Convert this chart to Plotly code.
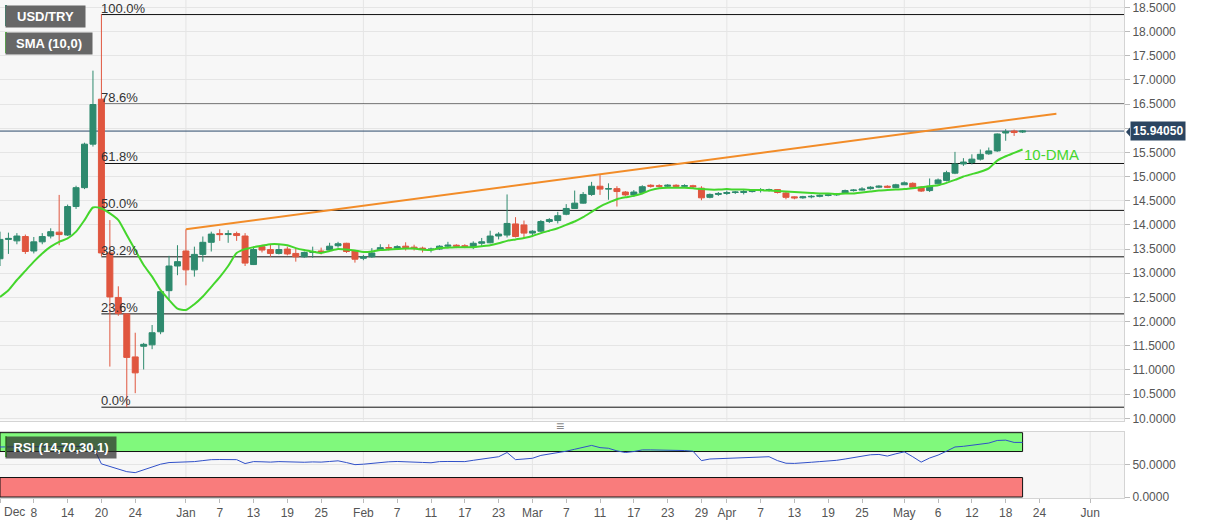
import pandas as pd
import plotly.graph_objects as go
from plotly.subplots import make_subplots

# daily candles, Dec 2 2021 .. May 20 2022 (weekdays), stamped at noon so weekend breaks don't clip bodies
dates = pd.bdate_range("2021-12-02", "2022-05-20") + pd.Timedelta(hours=12)

opens = [
    13.30, 13.70, 13.67, 13.76, 13.46, 13.65, 13.77, 13.85, 13.79, 14.38, 14.77, 15.67, 16.60, 13.42, 12.50, 12.16, 11.27, 11.49, 11.52, 11.79, 12.64, 13.15,
    13.46, 13.07, 13.39, 13.64, 13.82, 13.80, 13.82, 13.77, 13.18, 13.55, 13.49, 13.41, 13.50, 13.41, 13.34, 13.43, 13.46, 13.48, 13.57, 13.62, 13.46,
    13.31, 13.34, 13.48, 13.53, 13.52, 13.56, 13.54, 13.52, 13.49, 13.50, 13.56, 13.58, 13.57, 13.54, 13.62, 13.63, 13.77, 13.79, 14.02, 14.00,
    13.83, 13.87, 14.07, 14.09, 14.22, 14.34, 14.45, 14.63, 14.80, 14.74, 14.75, 14.68, 14.62, 14.67, 14.82, 14.81, 14.80, 14.82, 14.80, 14.81, 14.76, 14.57, 14.63,
    14.65, 14.67, 14.67, 14.69, 14.71, 14.72, 14.73, 14.66, 14.58, 14.56, 14.58, 14.59, 14.61, 14.62, 14.65, 14.71, 14.72, 14.75, 14.78, 14.80, 14.77,
    14.83, 14.86, 14.78, 14.71, 14.85, 14.92, 15.07, 15.26, 15.29, 15.36, 15.47, 15.53, 15.90, 15.94, 15.92,
]
highs = [
    13.86, 13.84, 13.83, 13.80, 13.75, 13.83, 13.93, 14.62, 14.42, 14.81, 15.70, 17.19, 18.36, 14.10, 12.73, 12.17, 11.77, 11.56, 11.93, 12.66, 13.36, 13.58,
    13.91, 13.55, 13.76, 13.86, 13.91, 13.89, 13.86, 13.83, 13.55, 13.59, 13.59, 13.59, 13.55, 13.52, 13.45, 13.55, 13.53, 13.63, 13.65, 13.63, 13.48,
    13.38, 13.52, 13.60, 13.60, 13.58, 13.64, 13.59, 13.55, 13.53, 13.58, 13.65, 13.60, 13.60, 13.66, 13.73, 13.88, 13.85, 14.63, 14.16, 14.09,
    13.89, 14.10, 14.14, 14.27, 14.43, 14.71, 14.68, 14.89, 15.03, 14.86, 14.80, 14.70, 14.72, 14.82, 14.84, 14.84, 14.84, 14.84, 14.84, 14.83, 14.80, 14.65, 14.68,
    14.71, 14.70, 14.73, 14.74, 14.76, 14.75, 14.74, 14.68, 14.59, 14.60, 14.62, 14.63, 14.64, 14.66, 14.73, 14.74, 14.78, 14.80, 14.82, 14.82, 14.85,
    14.90, 14.88, 14.80, 14.96, 14.96, 15.12, 15.51, 15.38, 15.46, 15.56, 15.60, 15.89, 15.98, 15.97, 15.96,
]
lows = [
    13.15, 13.40, 13.60, 13.40, 13.41, 13.60, 13.72, 13.58, 13.77, 14.33, 14.74, 15.62, 13.35, 11.07, 12.12, 10.23, 10.52, 11.01, 11.43, 11.74, 12.43, 12.96,
    12.75, 12.93, 13.24, 13.45, 13.67, 13.63, 13.67, 13.15, 13.17, 13.43, 13.34, 13.39, 13.37, 13.24, 13.32, 13.32, 13.39, 13.46, 13.53, 13.42, 13.22,
    13.27, 13.32, 13.46, 13.47, 13.48, 13.47, 13.47, 13.43, 13.43, 13.48, 13.54, 13.52, 13.52, 13.50, 13.56, 13.62, 13.70, 13.74, 13.74, 13.72,
    13.78, 13.85, 14.04, 14.03, 14.20, 14.33, 14.44, 14.60, 14.62, 14.52, 14.38, 14.60, 14.58, 14.66, 14.77, 14.77, 14.77, 14.77, 14.77, 14.76, 14.51, 14.55, 14.60,
    14.62, 14.64, 14.63, 14.67, 14.67, 14.69, 14.65, 14.53, 14.53, 14.54, 14.55, 14.57, 14.59, 14.60, 14.64, 14.69, 14.71, 14.73, 14.76, 14.76, 14.76,
    14.83, 14.76, 14.68, 14.68, 14.84, 14.90, 15.05, 15.22, 15.25, 15.33, 15.45, 15.51, 15.74, 15.84, 15.90,
]
closes = [
    13.70, 13.72, 13.77, 13.45, 13.65, 13.76, 13.86, 13.80, 14.38, 14.77, 15.67, 16.49, 13.42, 12.51, 12.17, 11.26, 10.94, 11.53, 11.77, 12.62, 13.15, 13.24,
    13.07, 13.39, 13.64, 13.81, 13.80, 13.82, 13.78, 13.21, 13.49, 13.48, 13.41, 13.49, 13.40, 13.34, 13.43, 13.45, 13.43, 13.56, 13.61, 13.45, 13.29,
    13.34, 13.42, 13.53, 13.52, 13.55, 13.53, 13.51, 13.49, 13.50, 13.56, 13.58, 13.56, 13.55, 13.62, 13.65, 13.77, 13.81, 14.03, 13.76, 13.83,
    13.87, 14.07, 14.11, 14.19, 14.34, 14.45, 14.63, 14.80, 14.74, 14.75, 14.69, 14.62, 14.68, 14.79, 14.80, 14.80, 14.82, 14.80, 14.81, 14.79, 14.56, 14.63, 14.65,
    14.67, 14.68, 14.69, 14.71, 14.73, 14.73, 14.67, 14.57, 14.56, 14.58, 14.59, 14.61, 14.62, 14.64, 14.71, 14.72, 14.74, 14.78, 14.80, 14.78, 14.83,
    14.87, 14.78, 14.70, 14.80, 14.93, 15.08, 15.26, 15.30, 15.36, 15.46, 15.53, 15.88, 15.93, 15.91, 15.94,
]
# 10-day SMA as drawn on the chart
sma10 = [
    12.51, 12.65, 12.86, 13.05, 13.24, 13.41, 13.55, 13.65, 13.72, 13.86, 14.10, 14.36, 14.34, 14.24, 14.10, 13.79, 13.48, 13.17, 12.93, 12.65, 12.45, 12.27,
    12.24, 12.36, 12.52, 12.72, 12.92, 13.15, 13.42, 13.50, 13.54, 13.57, 13.60, 13.60, 13.58, 13.52, 13.48, 13.45, 13.42, 13.46, 13.50, 13.49, 13.47,
    13.44, 13.45, 13.48, 13.49, 13.50, 13.51, 13.51, 13.49, 13.48, 13.52, 13.53, 13.54, 13.54, 13.54, 13.56, 13.58, 13.62, 13.67, 13.70, 13.73,
    13.77, 13.83, 13.88, 13.93, 14.00, 14.07, 14.16, 14.27, 14.38, 14.46, 14.53, 14.57, 14.60, 14.65, 14.72, 14.76, 14.77, 14.77, 14.77, 14.76, 14.74, 14.73, 14.73,
    14.74, 14.73, 14.73, 14.72, 14.72, 14.71, 14.70, 14.69, 14.68, 14.67, 14.66, 14.65, 14.65, 14.64, 14.65, 14.65, 14.67, 14.69, 14.71, 14.72, 14.73,
    14.74, 14.76, 14.78, 14.80, 14.82, 14.87, 14.93, 15.00, 15.05, 15.10, 15.17, 15.33, 15.42, 15.49, 15.56,
]
# RSI(14) as drawn on the lower panel
rsi14 = [
    77, 77, 77.5, 77, 77, 77.5, 77.5, 78, 78, 78, 78, 78, 51, 47, 43, 39, 37.5, 42, 45.5, 50.5, 53, 53.5,
    53, 54.5, 56, 57.5, 57.7, 57.7, 57.5, 51.5, 54.5, 54.2, 53.7, 54.5, 54.2, 53, 53.5, 54, 53.7, 54.7, 55.7, 53, 49.8,
    50.5, 51.8, 54, 54.2, 54.7, 54.5, 54, 53.2, 52.7, 54.5, 54.7, 54.7, 54.5, 56.5, 58.5, 61, 62, 68.5, 57.5, 58.5,
    59.6, 64, 66, 67.5, 70.5, 73.5, 77, 79.4, 76, 75, 71, 68.5, 70, 72.5, 72.5, 72.5, 72.5, 72, 71.5, 70.5, 56, 58.5, 59,
    59.6, 60, 60.5, 60.5, 61.5, 62, 56, 52, 51.7, 52.2, 53.5, 54.5, 55, 56.5, 58.5, 61, 63.5, 65, 65.5, 63, 66.5,
    69.5, 62, 53.7, 60, 64.5, 70.5, 77, 78, 80, 81.5, 83, 87, 87.5, 84, 84,
]
for s in (opens, highs, lows, closes, sma10, rsi14):
    assert len(s) == len(dates)

# fibonacci retracement of the Dec 20 spike / Dec 23 low
fib_labels = ["100.0%", "78.6%", "61.8%", "50.0%", "38.2%", "23.6%", "0.0%"]
fib_prices = [18.35, 16.50, 15.27, 14.30, 13.34, 12.16, 10.23]
fib_start = "2021-12-20 12:00"

trend_dates = ["2022-01-03 12:00", "2022-05-26 12:00"]
trend_prices = [13.91, 16.30]

last_price = 15.9405

price_ticks = [10.0, 10.5, 11.0, 11.5, 12.0, 12.5, 13.0, 13.5, 14.0, 14.5, 15.0, 15.5, 16.0, 16.5, 17.0, 17.5, 18.0, 18.5]
# the 16.0000 label sits under the last-price tag
price_tick_text = ["" if v == 16.0 else "%.4f" % v for v in price_ticks]

month_lines = ["2022-01-03", "2022-02-01", "2022-03-01", "2022-04-01", "2022-05-02", "2022-06-01"]
tick_dates = ["2021-12-02", "2021-12-08", "2021-12-14", "2021-12-20", "2021-12-24",
              "2022-01-03", "2022-01-07", "2022-01-13", "2022-01-19", "2022-01-25",
              "2022-02-01", "2022-02-07", "2022-02-11", "2022-02-17", "2022-02-23",
              "2022-03-01", "2022-03-07", "2022-03-11", "2022-03-17", "2022-03-23", "2022-03-29",
              "2022-04-01", "2022-04-07", "2022-04-13", "2022-04-19", "2022-04-25",
              "2022-05-02", "2022-05-06", "2022-05-12", "2022-05-18", "2022-05-24", "2022-06-01"]
tick_labels = ["", "8", "14", "20", "24", "Jan", "7", "13", "19", "25", "Feb", "7", "11", "17", "23",
               "Mar", "7", "11", "17", "23", "29", "Apr", "7", "13", "19", "25", "May", "6", "12", "18", "24", "Jun"]

x_range = ["2021-12-02 12:00", "2022-06-07 12:00"]
GREEN = "#2e8a6e"
RED = "#e0563f"
GRID = "#e5e5e5"
FONT = "Liberation Sans, Arial, sans-serif"

W, H = 1207, 526
ML, MR, MT, MB = 0, 83, 0, 28
PW, PH = W - ML - MR, H - MT - MB


def px(x):
    return x / PW


def py(y):
    return 1 - y / PH


fig = make_subplots(rows=2, cols=1, shared_xaxes=True)

fig.add_trace(go.Candlestick(
    x=dates, open=opens, high=highs, low=lows, close=closes,
    increasing=dict(line=dict(color=GREEN, width=1), fillcolor=GREEN),
    decreasing=dict(line=dict(color=RED, width=1), fillcolor=RED),
    whiskerwidth=0, showlegend=False, hoverinfo="skip"), row=1, col=1)

fig.add_trace(go.Scatter(x=dates, y=sma10, mode="lines", line=dict(color="#44d62c", width=2, shape="spline", smoothing=0.6),
                         showlegend=False, hoverinfo="skip"), row=1, col=1)
fig.add_trace(go.Scatter(x=trend_dates, y=trend_prices, mode="lines", line=dict(color="#f28c28", width=2),
                         showlegend=False, hoverinfo="skip"), row=1, col=1)
fig.add_trace(go.Scatter(x=dates, y=rsi14, mode="lines", line=dict(color="#3050c8", width=1),
                         showlegend=False, hoverinfo="skip"), row=2, col=1)

shapes = []
for d in month_lines:
    for xr, yr in (("x", "y domain"), ("x2", "y2 domain")):
        shapes.append(dict(type="line", xref=xr, yref=yr, x0=d + " 12:00", x1=d + " 12:00", y0=0, y1=1,
                           line=dict(color=GRID, width=1), layer="below"))
for p in fib_prices:
    shapes.append(dict(type="line", xref="x", yref="y", x0=fib_start, x1=x_range[1], y0=p, y1=p,
                       line=dict(color="#111111", width=1), layer="below"))
shapes.append(dict(type="line", xref="paper", yref="y", x0=0, x1=1, y0=last_price, y1=last_price,
                   line=dict(color="#2c4a6b", width=1), layer="below"))
# RSI overbought / oversold zones
shapes.append(dict(type="rect", xref="x2", yref="y2", x0=x_range[0], x1=dates[-1], y0=70, y1=99,
                   fillcolor="#80f97c", line=dict(color="#111111", width=1), layer="below"))
shapes.append(dict(type="rect", xref="x2", yref="y2", x0=x_range[0], x1=dates[-1], y0=0, y1=30,
                   fillcolor="#f97c7c", line=dict(color="#111111", width=1), layer="below"))
# legend tag stripes
shapes.append(dict(type="rect", xref="paper", yref="paper", x0=px(5), x1=px(7), y0=py(26), y1=py(5),
                   fillcolor=GREEN, line=dict(width=0)))
shapes.append(dict(type="rect", xref="paper", yref="paper", x0=px(5), x1=px(7), y0=py(53), y1=py(32),
                   fillcolor="#4cd137", line=dict(width=0)))
shapes.append(dict(type="rect", xref="paper", yref="paper", x0=px(5), x1=px(7), y0=py(457), y1=py(436),
                   fillcolor="#4cd137", line=dict(width=0)))
# little pointer on the last-price tag
shapes.append(dict(type="path", xref="paper", yref="paper",
                   path="M %f %f L %f %f L %f %f Z" % (px(PW + 2), py(132), px(PW + 6), py(127.5), px(PW + 6), py(136.5)),
                   fillcolor="#2b4561", line=dict(width=0)))

annotations = []
for lab, p in zip(fib_labels, fib_prices):
    annotations.append(dict(x=fib_start, y=p, xref="x", yref="y", text=lab, showarrow=False,
                            xanchor="left", yanchor="bottom", yshift=-3, xshift=-2,
                            font=dict(family=FONT, size=13, color="#333333")))
annotations.append(dict(x=dates[-1], y=15.45, xref="x", yref="y", text="10-DMA", showarrow=False,
                        xanchor="left", yanchor="middle", xshift=-1,
                        font=dict(family=FONT, size=15, color="#44d62c")))
annotations.append(dict(x=1, y=last_price, xref="paper", yref="y", text="<b>15.94050</b>", showarrow=False,
                        xanchor="left", yanchor="middle", xshift=6, bgcolor="#2b4561", borderpad=2,
                        font=dict(family=FONT, size=12, color="white")))
for text, y0, w in (("USD/TRY", 5, 77), ("SMA (10,0)", 32, 84)):
    annotations.append(dict(x=px(5), y=py(y0), xref="paper", yref="paper", text="<b>%s</b>" % text,
                            showarrow=False, xanchor="left", yanchor="top", width=w, height=19,
                            bgcolor="#676767", borderpad=1, align="center",
                            font=dict(family=FONT, size=13, color="white")))
annotations.append(dict(x=px(5), y=py(436), xref="paper", yref="paper", text="<b>RSI (14,70,30,1)</b>",
                        showarrow=False, xanchor="left", yanchor="top", width=108, height=19,
                        bgcolor="rgba(45,45,45,0.72)", borderpad=1, align="center",
                        font=dict(family=FONT, size=13, color="white")))
annotations.append(dict(x=px(2), y=0, xref="paper", yref="paper", text="Dec", showarrow=False,
                        xanchor="left", yanchor="top", yshift=-5,
                        font=dict(family=FONT, size=12, color="#555555")))
annotations.append(dict(x=px(560), y=py(426), xref="paper", yref="paper", text="\u2261", showarrow=False,
                        xanchor="center", yanchor="middle",
                        font=dict(family=FONT, size=14, color="#888888")))

xcommon = dict(type="date", range=x_range, rangebreaks=[dict(bounds=["sat", "mon"])],
               showgrid=False, showline=True, mirror=True, linecolor="#d4d4d4", rangeslider=dict(visible=False))

fig.update_layout(
    width=W, height=H,
    margin=dict(l=ML, r=MR, t=MT, b=MB),
    paper_bgcolor="white", plot_bgcolor="#f7f7f7",
    font=dict(family=FONT, size=12, color="#555555"),
    boxgap=0.16, boxgroupgap=0.16,
    showlegend=False,
    shapes=shapes, annotations=annotations,
    xaxis=dict(xcommon, domain=[0, 1], showticklabels=False, ticks=""),
    xaxis2=dict(xcommon, domain=[0, 1], tickmode="array", tickvals=[d + " 12:00" for d in tick_dates],
                ticktext=tick_labels, ticks="outside", ticklen=4, tickcolor="#bbbbbb",
                tickfont=dict(family=FONT, size=12, color="#555555")),
    yaxis=dict(domain=[py(420.5), 1], side="right", range=[9.955, 18.651],
               tickmode="array", tickvals=price_ticks, ticktext=price_tick_text,
               showgrid=True, gridcolor=GRID, zeroline=False,
               showline=True, mirror=True, linecolor="#d4d4d4",
               ticks="outside", ticklen=5, tickcolor="#bbbbbb",
               tickfont=dict(family=FONT, size=12, color="#555555")),
    yaxis2=dict(domain=[0, py(431.5)], side="right", range=[-1.5, 100.8], tickvals=[0, 50],
                tickformat=".4f", showgrid=True, gridcolor=GRID, zeroline=False,
                showline=True, mirror=True, linecolor="#d4d4d4",
                ticks="outside", ticklen=5, tickcolor="#bbbbbb",
                tickfont=dict(family=FONT, size=12, color="#555555")),
)

fig.write_html("out.html", config={"displayModeBar": False},
               post_script="document.body.style.margin='0';document.body.style.overflow='hidden';")
